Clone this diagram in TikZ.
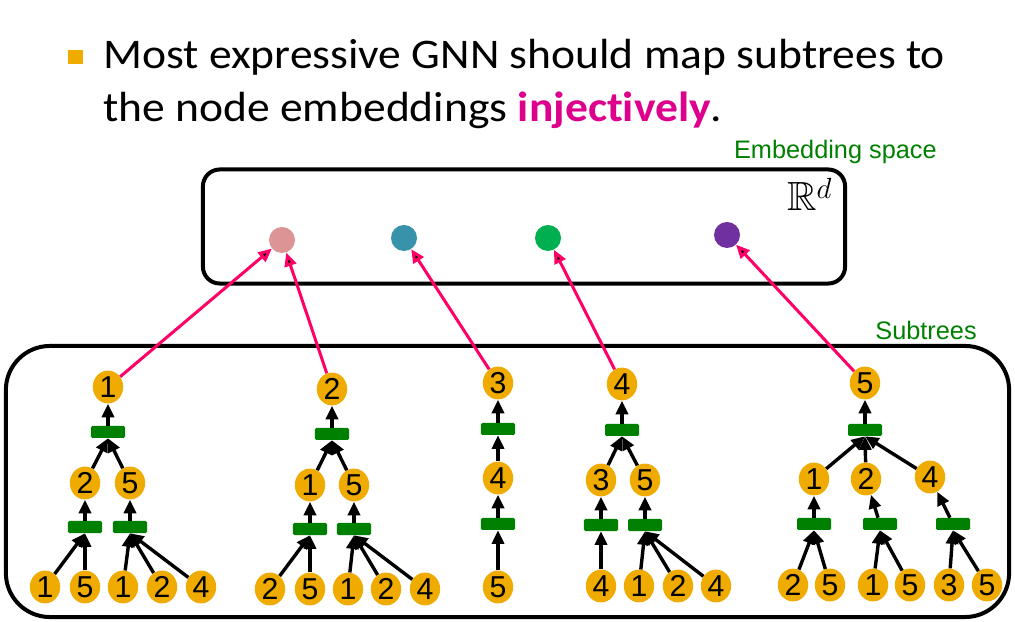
\documentclass[tikz,border=0pt]{standalone}
\usepackage{amssymb}
\usepackage{fontspec}
\setmainfont{Carlito}[Ligatures=NoCommon]
\newfontfamily\arialfont{Liberation Sans}
\usetikzlibrary{shapes.geometric,arrows.meta}
\definecolor{nodeorange}{RGB}{240,171,0}
\definecolor{agggreen}{RGB}{0,128,0}
\definecolor{mappink}{RGB}{255,0,102}
\definecolor{injpink}{RGB}{220,0,140}
\definecolor{embA}{RGB}{221,148,148}
\definecolor{embB}{RGB}{56,146,170}
\definecolor{embC}{RGB}{0,176,80}
\definecolor{embD}{RGB}{112,48,160}
\begin{document}
\begin{tikzpicture}[x=0.025cm, y=-0.025cm]
	\tikzstyle{vertex} = [ellipse,fill=nodeorange,minimum width=0.76cm,minimum height=0.82cm,inner sep=0pt,font=\arialfont\fontsize{21.5}{21.5}\selectfont]
	\tikzstyle{agg} = [rectangle,fill=agggreen,minimum width=0.85cm,minimum height=0.3cm,inner sep=0pt,rounded corners=1pt]
	\tikzstyle{emb} = [circle,minimum size=0.65cm,inner sep=0pt]
	\tikzstyle{msg} = [-{Triangle[length=0.34cm,width=0.3cm]},line width=0.085cm]
	\tikzstyle{map} = [-{Triangle[length=0.34cm,width=0.3cm]},draw=mappink,line width=0.075cm]
	\tikzstyle{label} = [inner sep=0pt,text=agggreen,font=\arialfont\fontsize{18}{18}\selectfont]
	\useasboundingbox (0,0) rectangle (1015,622);
	% heading
	\node[fill=nodeorange,minimum size=0.37cm,inner sep=0pt](bullet)at(75.5,57){};
	\node[anchor=base west,inner sep=0pt,xscale=1.08,font=\fontsize{30}{36}\selectfont](line1)at(103,69){Most expressive GNN should map subtrees to};
	\node[anchor=base west,inner sep=0pt,xscale=1.08,font=\fontsize{30}{36}\selectfont](line2)at(103,122){the node embeddings \textbf{\textcolor{injpink}{injectively}}.};
	% embedding space
	\node[draw,line width=0.1cm,rounded corners=0.42cm,minimum width=16.05cm,minimum height=2.85cm](space)at(524,226.5){};
	\node[label,anchor=base east](spacelabel)at(937,159){Embedding space};
	\node[anchor=base west,inner sep=0pt,font=\fontsize{29}{29}\selectfont](rd)at(787,211){$\mathbb{R}^{d}$};
	\node[emb,fill=embA](e1)at(282,240){};
	\node[emb,fill=embB](e2)at(404,238){};
	\node[emb,fill=embC](e3)at(548,238){};
	\node[emb,fill=embD](e4)at(727,235){};
	% subtrees
	\node[draw,line width=0.1cm,rounded corners=1.1cm,minimum width=25.075cm,minimum height=6.775cm](subtrees)at(507.5,481.5){};
	\node[label,anchor=base east](subtreelabel)at(977,340){Subtrees};
	% subtree of node 1
	\node[vertex](r1)at(108,387){1};
	\node[agg](b1)at(108,432){};
	\node[vertex](r1a)at(85,483){2};
	\node[vertex](r1b)at(130,483){5};
	\node[agg](b1a)at(85,527){};
	\node[agg](b1b)at(130,527){};
	\node[vertex](l1a)at(45,587){1};
	\node[vertex](l1b)at(85,587){5};
	\node[vertex](l1c)at(123,587){1};
	\node[vertex](l1d)at(162,587){2};
	\node[vertex](l1e)at(201,587){4};
	\path[msg] (b1) edge (r1)
	(r1a) edge (b1.south) (r1b) edge (b1.south)
	(b1a) edge (r1a) (b1b) edge (r1b)
	(l1a) edge (b1a.south) (l1b) edge (b1a.south)
	(l1c) edge (b1b.south) (l1d) edge (b1b.south) (l1e) edge (b1b.south);
	% subtree of node 2
	\node[vertex](r2)at(332,389){2};
	\node[agg](b2)at(332,434){};
	\node[vertex](r2a)at(310,485){1};
	\node[vertex](r2b)at(354,485){5};
	\node[agg](b2a)at(310,529){};
	\node[agg](b2b)at(354,529){};
	\node[vertex](l2a)at(270,589){2};
	\node[vertex](l2b)at(310,589){5};
	\node[vertex](l2c)at(348,589){1};
	\node[vertex](l2d)at(386,589){2};
	\node[vertex](l2e)at(425,589){4};
	\path[msg] (b2) edge (r2)
	(r2a) edge (b2.south) (r2b) edge (b2.south)
	(b2a) edge (r2a) (b2b) edge (r2b)
	(l2a) edge (b2a.south) (l2b) edge (b2a.south)
	(l2c) edge (b2b.south) (l2d) edge (b2b.south) (l2e) edge (b2b.south);
	% subtree of node 3
	\node[vertex](r3)at(498,383){3};
	\node[agg](b3)at(498,429){};
	\node[vertex](r3a)at(498,478){4};
	\node[agg](b3a)at(498,524){};
	\node[vertex](l3a)at(498,587){5};
	\path[msg] (b3) edge (r3)
	(r3a) edge (b3.south)
	(b3a) edge (r3a)
	(l3a) edge (b3a.south);
	% subtree of node 4
	\node[vertex](r4)at(622,384){4};
	\node[agg](b4)at(622,430){};
	\node[vertex](r4a)at(601,480){3};
	\node[vertex](r4b)at(645,480){5};
	\node[agg](b4a)at(601,525){};
	\node[agg](b4b)at(645,525){};
	\node[vertex](l4a)at(601,586){4};
	\node[vertex](l4b)at(639,586){1};
	\node[vertex](l4c)at(678,586){2};
	\node[vertex](l4d)at(716,586){4};
	\path[msg] (b4) edge (r4)
	(r4a) edge (b4.south) (r4b) edge (b4.south)
	(b4a) edge (r4a) (b4b) edge (r4b)
	(l4a) edge (b4a.south)
	(l4b) edge (b4b.south) (l4c) edge (b4b.south) (l4d) edge (b4b.south);
	% subtree of node 5
	\node[vertex](r5)at(865,383){5};
	\node[agg](b5)at(865,430){};
	\node[vertex](r5a)at(814,479){1};
	\node[vertex](r5b)at(866,479){2};
	\node[vertex](r5c)at(930,477){4};
	\node[agg](b5a)at(814,524){};
	\node[agg](b5b)at(880,524){};
	\node[agg](b5c)at(953,524){};
	\node[vertex](l5a)at(793,585){2};
	\node[vertex](l5b)at(830,585){5};
	\node[vertex](l5c)at(873,585){1};
	\node[vertex](l5d)at(910,585){5};
	\node[vertex](l5e)at(949,585){3};
	\node[vertex](l5f)at(987,585){5};
	\path[msg] (b5) edge (r5)
	(r5a) edge (b5.south) (r5b) edge (b5.south) (r5c) edge (b5.south)
	(b5a) edge (r5a) (b5b) edge (r5b) (b5c) edge (r5c)
	(l5a) edge (b5a.south) (l5b) edge (b5a.south)
	(l5c) edge (b5b.south) (l5d) edge (b5b.south)
	(l5e) edge (b5c.south) (l5f) edge (b5c.south);
	% mapping to the embedding space
	\path[map] (r1) edge (e1) (r2) edge (e1) (r3) edge (e2) (r4) edge (e3) (r5) edge (e4);
\end{tikzpicture}
\end{document}
